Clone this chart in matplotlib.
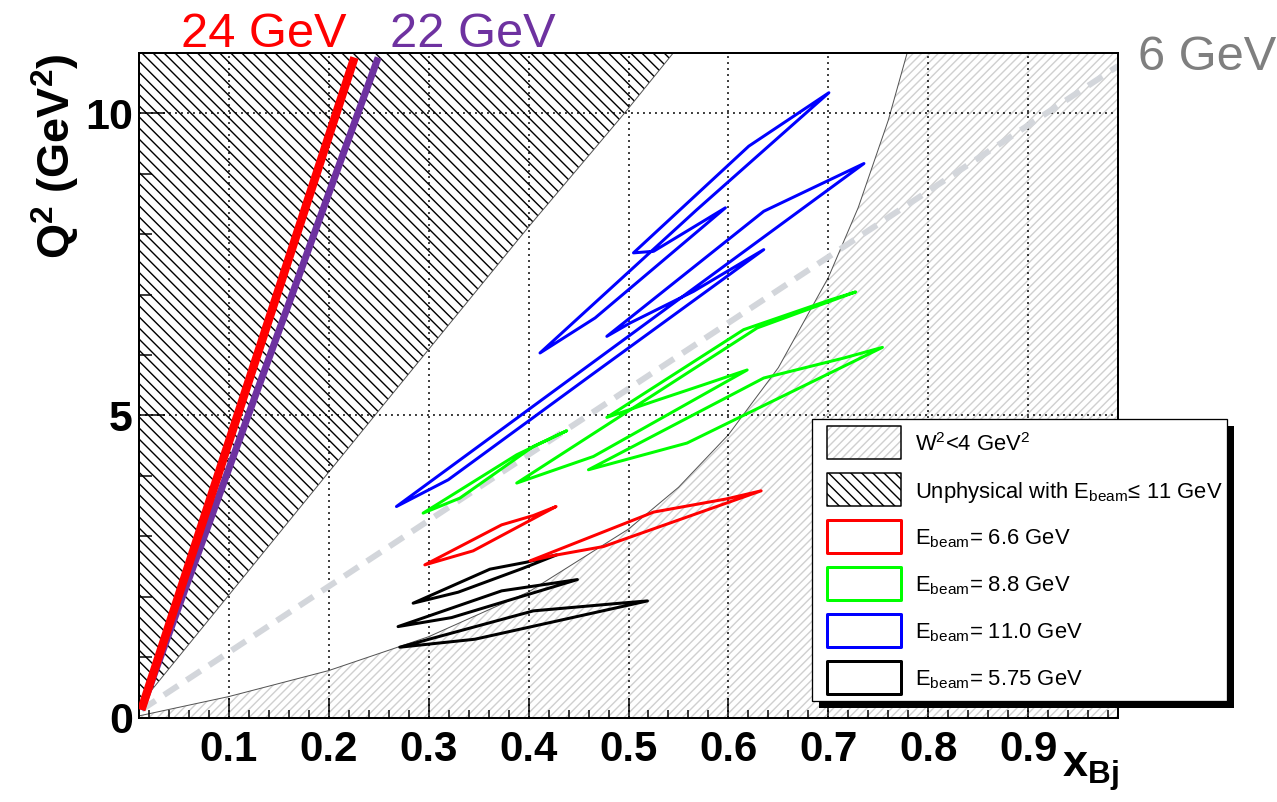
import matplotlib
matplotlib.use("Agg")
import matplotlib.pyplot as plt
from matplotlib.patches import Polygon, Rectangle
from matplotlib.ticker import MultipleLocator, FixedLocator
import numpy as np

DPI = 200
W, H = 1277, 802


def px(n):
    """pixels -> points at the output resolution"""
    return n * 72.0 / DPI


def fx(X):
    return X / W


def fy(Y):
    return 1.0 - Y / H


plt.rcParams['font.family'] = ['Liberation Sans', 'DejaVu Sans']
plt.rcParams['mathtext.fontset'] = 'custom'
plt.rcParams['mathtext.rm'] = 'Liberation Sans'
plt.rcParams['mathtext.it'] = 'Liberation Sans:italic'
plt.rcParams['mathtext.bf'] = 'Liberation Sans:bold'
plt.rcParams['hatch.linewidth'] = px(1.4)

# ---------------------------------------------------------------- data
# kinematic limit for E_beam <= 11 GeV (upper boundary of allowed region)
unphys_x = [0.01, 0.25, 0.40, 0.496, 0.545]
unphys_q2 = [0.20, 5.08, 8.12, 10.0, 11.0]

# W^2 = 4 GeV^2 contour
w2_x = [0.01, 0.10, 0.20, 0.30, 0.40, 0.50, 0.55, 0.60, 0.65, 0.70, 0.73, 0.76, 0.779]
w2_q2 = [0.03, 0.35, 0.78, 1.34, 2.08, 3.12, 3.81, 4.68, 5.79, 7.28, 8.44, 9.88, 11.0]

# beam-energy reference lines
e24_x, e24_q2 = [0.0123, 0.2257], [0.13, 10.92]
e22_x, e22_q2 = [0.0123, 0.2494], [0.13, 10.92]
e6_x, e6_q2 = [0.0125, 0.99], [0.13, 10.78]

# acceptance contours, E_beam = 5.75 GeV
blk_a_x = [0.2844, 0.3613, 0.3981, 0.4282, 0.3947, 0.3295]
blk_a_q2 = [1.894, 2.457, 2.573, 2.694, 2.474, 2.076]
blk_b_x = [0.2693, 0.3730, 0.4248, 0.4489, 0.3229]
blk_b_q2 = [1.507, 2.098, 2.225, 2.285, 1.656]
blk_c_x = [0.2710, 0.4047, 0.4917, 0.5190, 0.3462]
blk_c_q2 = [1.166, 1.767, 1.894, 1.932, 1.298]

# E_beam = 6.6 GeV
red_a_x = [0.2961, 0.3730, 0.4047, 0.4275, 0.3445]
red_a_q2 = [2.528, 3.190, 3.344, 3.493, 2.760]
red_b_x = [0.4014, 0.5251, 0.5987, 0.6328, 0.4749, 0.4248]
red_b_q2 = [2.594, 3.401, 3.621, 3.753, 2.831, 2.682]

# E_beam = 8.8 GeV
grn_a_x = [0.2944, 0.3881, 0.4382, 0.4047, 0.3312]
grn_a_q2 = [3.384, 4.349, 4.747, 4.487, 3.632]
grn_b_x = [0.3881, 0.4649, 0.6188, 0.5752, 0.5251, 0.4783, 0.6153, 0.7006, 0.7274, 0.6288]
grn_b_q2 = [3.881, 4.321, 5.752, 5.508, 5.232, 4.967, 6.419, 6.904, 7.043, 6.447]
grn_c_x = [0.4599, 0.5586, 0.7542, 0.7157, 0.6354]
grn_c_q2 = [4.101, 4.543, 6.126, 5.950, 5.619]

# E_beam = 11.0 GeV
blu_a_x = [0.4114, 0.5686, 0.7006, 0.6204, 0.5050, 0.5251, 0.5970, 0.4666]
blu_a_q2 = [6.033, 8.406, 10.338, 9.454, 7.689, 7.715, 8.434, 6.613]
blu_b_x = [0.2677, 0.7357, 0.6354, 0.4783, 0.5017, 0.5652, 0.6354, 0.4633, 0.3195]
blu_b_q2 = [3.493, 9.167, 8.377, 6.308, 6.530, 7.053, 7.743, 5.674, 3.935]

x_ticks = [0.1, 0.2, 0.3, 0.4, 0.5, 0.6, 0.7, 0.8, 0.9]
x_labels = ["0.1", "0.2", "0.3", "0.4", "0.5", "0.6", "0.7", "0.8", "0.9"]
y_ticks = [0, 5, 10]
y_labels = ["0", "5", "10"]

legend_labels = [
    r"W$^{2}$<4 GeV$^{2}$",
    r"Unphysical with E$_{\rm beam}$≤ 11 GeV",
    r"E$_{\rm beam}$= 6.6 GeV",
    r"E$_{\rm beam}$= 8.8 GeV",
    r"E$_{\rm beam}$= 11.0 GeV",
    r"E$_{\rm beam}$= 5.75 GeV",
]

RED = '#ff0000'
GREEN = '#00ff00'
BLUE = '#0000ff'
BLACK = '#000000'
PURPLE = '#6e32a0'
DASHGRAY = '#d3d6db'
HATCHGRAY = '#d0d0d0'

HATCH_W2 = '/' * 8
HATCH_UNPHYS = '\\' * 6

# ---------------------------------------------------------------- figure
fig = plt.figure(figsize=(W / DPI, H / DPI), dpi=DPI, facecolor='white')
ax_l, ax_r, ax_t, ax_b = 139, 1118, 52.7, 717.7
ax = fig.add_axes([fx(ax_l), fy(ax_b), (ax_r - ax_l) / W, (ax_b - ax_t) / H])
ax.set_xlim(0.01, 0.99)
ax.set_ylim(0, 11)

# W^2 < 4 region (hatched, below the contour)
w2_poly = np.column_stack([w2_x + [0.99, 0.99, 0.01], w2_q2 + [11.0, 0.0, 0.0]])
ax.add_patch(Polygon(w2_poly, closed=True, facecolor='none', edgecolor=HATCHGRAY,
                     hatch=HATCH_W2, linewidth=0, zorder=1))
ax.plot(w2_x, w2_q2, color='#555555', lw=px(1.0), zorder=1.2)

# unphysical region (above the kinematic limit)
un_poly = np.column_stack([unphys_x + [0.01], unphys_q2 + [11.0]])
ax.add_patch(Polygon(un_poly, closed=True, facecolor='none', edgecolor='black',
                     hatch=HATCH_UNPHYS, linewidth=0, zorder=1))
ax.plot(unphys_x, unphys_q2, color='#555555', lw=px(1.0), zorder=1.2)

# 6 GeV reference line
ax.plot(e6_x, e6_q2, color=DASHGRAY, lw=px(6), linestyle=(0, (2.8, 1.7)),
        solid_capstyle='butt', dash_capstyle='butt', zorder=2)

# acceptance contours
contours = [
    (blk_a_x, blk_a_q2, BLACK), (blk_b_x, blk_b_q2, BLACK), (blk_c_x, blk_c_q2, BLACK),
    (red_a_x, red_a_q2, RED), (red_b_x, red_b_q2, RED),
    (grn_a_x, grn_a_q2, GREEN), (grn_b_x, grn_b_q2, GREEN), (grn_c_x, grn_c_q2, GREEN),
    (blu_a_x, blu_a_q2, BLUE), (blu_b_x, blu_b_q2, BLUE),
]
for cx, cy, col in contours:
    ax.add_patch(Polygon(np.column_stack([cx, cy]), closed=True, fill=False,
                         edgecolor=col, lw=px(3), joinstyle='round', zorder=3))

# high-energy lines
ax.plot(e22_x, e22_q2, color=PURPLE, lw=px(7), solid_capstyle='butt', zorder=4)
ax.plot(e24_x, e24_q2, color=RED, lw=px(8.5), solid_capstyle='butt', zorder=4.1)

# axes styling
ax.xaxis.set_major_locator(FixedLocator(x_ticks))
ax.xaxis.set_minor_locator(MultipleLocator(0.02))
ax.yaxis.set_major_locator(FixedLocator(y_ticks))
ax.yaxis.set_minor_locator(MultipleLocator(1))
ax.set_xticklabels(x_labels, fontsize=px(42), fontweight='bold')
ax.set_yticklabels(y_labels, fontsize=px(43), fontweight='bold')
ax.tick_params(axis='x', which='major', direction='in', length=px(20), width=px(1.5),
               pad=px(12), top=False)
ax.tick_params(axis='x', which='minor', direction='in', length=px(8), width=px(1.5), top=False)
ax.tick_params(axis='y', which='major', direction='in', length=px(26), width=px(1.5),
               pad=px(6), right=False)
ax.tick_params(axis='y', which='minor', direction='in', length=px(13), width=px(1.5), right=False)
for s in ax.spines.values():
    s.set_linewidth(px(2))
ax.grid(True, which='major', color='black', linestyle=(0, (1.3, 2.7)), linewidth=px(1.5))

# axis titles
fig.text(fx(56), fy(156), r"Q$^{\mathbf{2}}$ (GeV$^{\mathbf{2}}$)", rotation=90,
         fontsize=px(45), fontweight='bold', ha='center', va='center')
fig.text(fx(1061.7), fy(776.7), r"x$_{\mathbf{Bj}}$", fontsize=px(45),
         fontweight='bold', ha='left', va='baseline')

# line annotations
fig.text(fx(264), fy(46.7), "24 GeV", color=RED, fontsize=px(48.7), ha='center', va='baseline')
fig.text(fx(472.5), fy(46.7), "22 GeV", color=PURPLE, fontsize=px(48.7), ha='center', va='baseline')
fig.text(fx(1206.7), fy(70), "6 GeV", color='#7f7f7f', fontsize=px(48.7), ha='center', va='baseline')

# legend box with shadow
L, T, R, B = 811.7, 419.3, 1227.0, 700.7
off = 7
fig.add_artist(Rectangle((fx(L + off), fy(B + off)), (R - L) / W, (B - T) / H,
                         transform=fig.transFigure, facecolor='black', edgecolor='black',
                         lw=0, zorder=5))
fig.add_artist(Rectangle((fx(L), fy(B)), (R - L) / W, (B - T) / H,
                         transform=fig.transFigure, facecolor='white', edgecolor='black',
                         lw=px(1.3), zorder=6))

box_l, box_r, box_h = 826.7, 900.7, 33.4
row_c0, row_dy = 442.7, 47.0
handle_styles = [
    dict(hatch=HATCH_W2, hcolor=HATCHGRAY, edge=BLACK, lw=1.5),
    dict(hatch=HATCH_UNPHYS, hcolor=BLACK, edge=BLACK, lw=1.5),
    dict(hatch=None, hcolor=None, edge=RED, lw=3),
    dict(hatch=None, hcolor=None, edge=GREEN, lw=3),
    dict(hatch=None, hcolor=None, edge=BLUE, lw=3),
    dict(hatch=None, hcolor=None, edge=BLACK, lw=3),
]
for i, (lab, st) in enumerate(zip(legend_labels, handle_styles)):
    c = row_c0 + i * row_dy
    x0, y0 = fx(box_l), fy(c + box_h / 2)
    bw, bh = (box_r - box_l) / W, box_h / H
    if st['hatch']:
        fig.add_artist(Rectangle((x0, y0), bw, bh, transform=fig.transFigure,
                                 facecolor='white', edgecolor=st['hcolor'],
                                 hatch=st['hatch'], lw=0, zorder=7))
    fig.add_artist(Rectangle((x0, y0), bw, bh, transform=fig.transFigure,
                             facecolor='none', edgecolor=st['edge'], lw=px(st['lw']),
                             joinstyle='round', zorder=7.5))
    fig.text(fx(915), fy(c + 8), lab, fontsize=px(22), ha='left', va='baseline', zorder=8)

fig.savefig('out.png', dpi=DPI, facecolor='white')
